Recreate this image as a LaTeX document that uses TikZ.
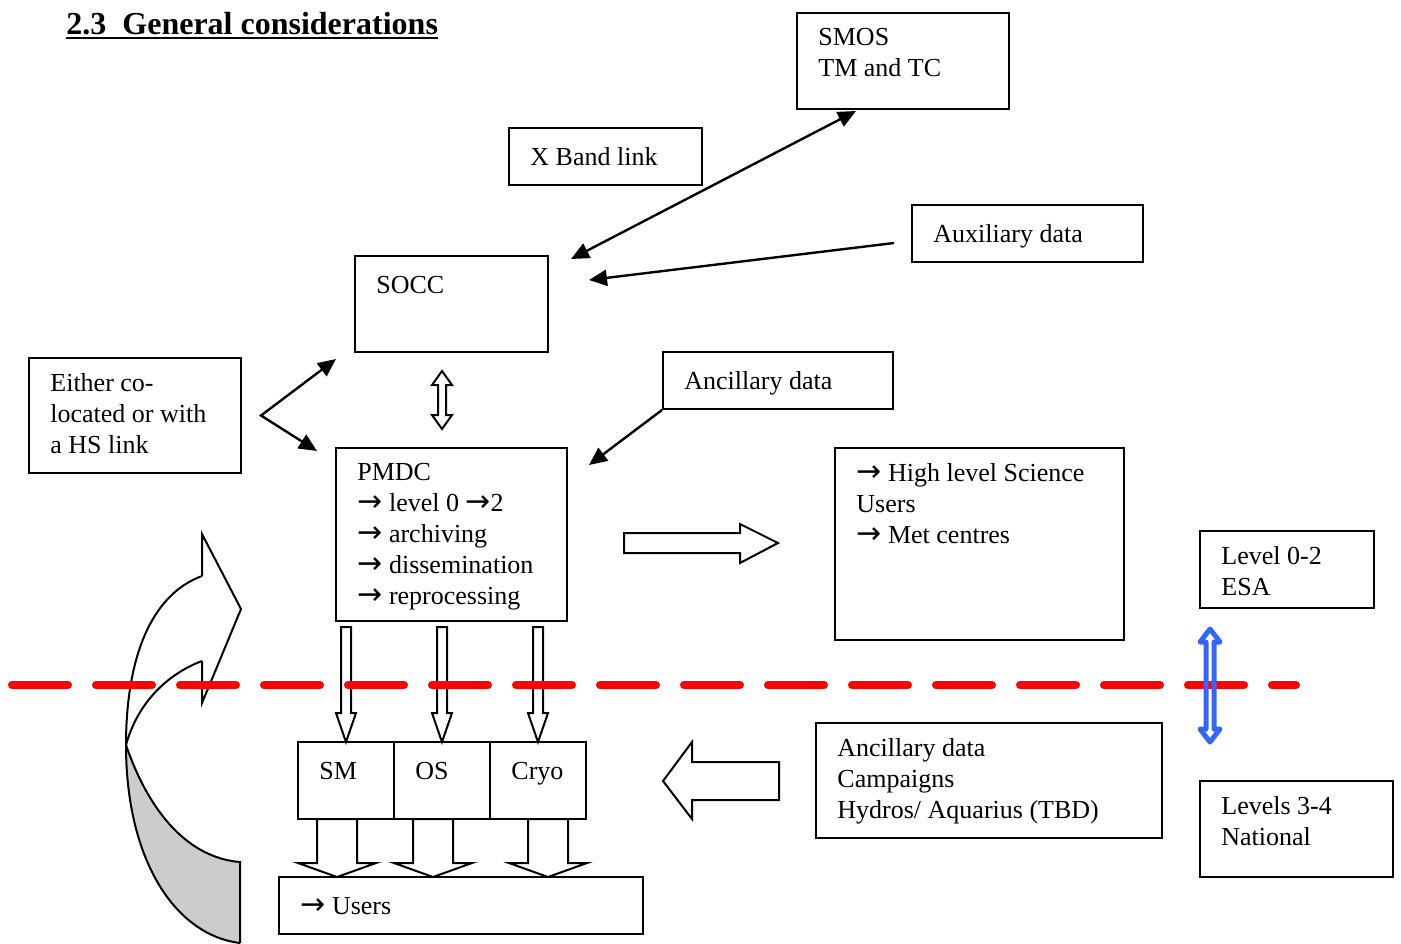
\documentclass[tikz,border=0pt]{standalone}
\usepackage{fontspec}
\setmainfont{Liberation Serif}
\newfontfamily\arrowfont{DejaVu Sans}
\newcommand\ra{{\arrowfont\fontsize{15}{15.5}\selectfont →}}
\usetikzlibrary{arrows.meta,fit}

\definecolor{linkblue}{RGB}{51,102,255}

\tikzset{
  box/.style={draw, line width=1pt, fill=white, inner sep=0pt},
  txt/.style={anchor=north west, inner sep=0pt, align=left,
    font=\fontsize{13}{15.5}\selectfont, execute at begin node=\strut},
  link/.style={line width=1.2pt},
  block/.style={draw, line width=1pt, fill=white, line join=miter},
}

\begin{document}
\begin{tikzpicture}[x=0.5pt, y=-0.5pt, >={Triangle[length=9pt,width=8pt]}]
  \useasboundingbox (0,0) rectangle (1401,943);

  % Title
  \node[anchor=base west, inner sep=0pt, font=\fontsize{16}{19}\selectfont\bfseries] (title) at (66,34) {2.3\ \ General considerations};
  \draw[line width=1.4pt] ([yshift=-2pt]title.base west) -- ([yshift=-2pt]title.base east);

  % Boxes
  \node[box, fit={(797,13) (1009,109)}] (smos) {};
  \node[box, fit={(509,128) (702,185)}] (xband) {};
  \node[box, fit={(912,205) (1143,262)}] (aux) {};
  \node[box, fit={(355,256) (548,352)}] (socc) {};
  \node[box, fit={(29,358) (241,473)}] (either) {};
  \node[box, fit={(663,352) (893,409)}] (anc) {};
  \node[box, fit={(336,448) (567,621)}] (pmdc) {};
  \node[box, fit={(835,448) (1124,640)}] (sci) {};
  \node[box, fit={(1200,531) (1374,608)}] (esa) {};
  \node[box, fit={(816,723) (1162,838)}] (camp) {};
  \node[box, fit={(1200,781) (1393,877)}] (nat) {};
  \node[box, fit={(298,742) (394,819)}] (sm) {};
  \node[box, fit={(394,742) (490,819)}] (os) {};
  \node[box, fit={(490,742) (586,819)}] (cryo) {};
  \node[box, fit={(279,877) (643,934)}] (users) {};

  % Box texts
  \node[txt] (smos-t) at ([shift={(22,16)}]smos.north west) {SMOS\\TM and TC};
  \node[txt] (xband-t) at ([shift={(22,16)}]xband.north west) {X Band link};
  \node[txt] (aux-t) at ([shift={(22,16)}]aux.north west) {Auxiliary data};
  \node[txt] (socc-t) at ([shift={(22,16)}]socc.north west) {SOCC};
  \node[txt] (either-t) at ([shift={(22,16)}]either.north west) {Either co-\\located or with\\a HS link};
  \node[txt] (anc-t) at ([shift={(22,16)}]anc.north west) {Ancillary data};
  \node[txt] (pmdc-t) at ([shift={(22,16)}]pmdc.north west) {PMDC\\\ra\ level 0 \ra2\\\ra\ archiving\\\ra\ dissemination\\\ra\ reprocessing};
  \node[txt] (sci-t) at ([shift={(22,16)}]sci.north west) {\ra\ High level Science\\Users\\\ra\ Met centres};
  \node[txt] (esa-t) at ([shift={(22,16)}]esa.north west) {Level 0-2\\ESA};
  \node[txt] (camp-t) at ([shift={(22,16)}]camp.north west) {Ancillary data\\Campaigns\\Hydros/ Aquarius (TBD)};
  \node[txt] (nat-t) at ([shift={(22,16)}]nat.north west) {Levels 3-4\\National};
  \node[txt] (sm-t) at ([shift={(22,16)}]sm.north west) {SM};
  \node[txt] (os-t) at ([shift={(22,16)}]os.north west) {OS};
  \node[txt] (cryo-t) at ([shift={(22,16)}]cryo.north west) {Cryo};
  \node[txt] (users-t) at ([shift={(22,16)}]users.north west) {\ra\ Users};

  % Link ends
  \coordinate (smos-in) at ([shift={(60,1)}]smos.south west);
  \coordinate (socc-ne) at ([shift={(22,4)}]socc.north east);
  \coordinate (aux-out) at ([shift={(-17,9.5)}]aux.west);
  \coordinate (socc-e) at ([shift={(40,25)}]socc.north east);
  \coordinate (hs) at ([shift={(19,0)}]either.east);
  \coordinate (socc-w) at ([shift={(-18,6)}]socc.south west);
  \coordinate (pmdc-w) at ([shift={(-18,4)}]pmdc.north west);
  \coordinate (pmdc-ne) at ([shift={(21,18)}]pmdc.north east);

  % Links
  \draw[link, <->] (socc-ne) -- (smos-in);
  \draw[link, ->] (aux-out) -- (socc-e);
  \draw[link, <->] (socc-w) -- (hs) -- (pmdc-w);
  \draw[link, ->] (anc.south west) -- (pmdc-ne);

  % Block arrows
  \draw[block] (438,385) -- (432,385) -- (442,371) -- (452,385) -- (446,385) -- (446,415) -- (452,415) -- (442,429) -- (432,415) -- (438,415) -- cycle;
  \draw[block] (624,533) -- (740,533) -- (740,524) -- (778,543) -- (740,563) -- (740,553) -- (624,553) -- cycle;
  \draw[block] (779,762) -- (692,762) -- (692,742) -- (663,781) -- (692,819) -- (692,800) -- (779,800) -- cycle;
  \foreach \c in {346,442,538}
    \draw[block] (\c-5,627) -- (\c+5,627) -- (\c+5,713) -- (\c+10,713) -- (\c,742) -- (\c-10,713) -- (\c-5,713) -- cycle;
  \foreach \c in {337,433,548}
    \draw[block] (\c-20,819) -- (\c+20,819) -- (\c+20,863) -- (\c+39,863) -- (\c,877) -- (\c-39,863) -- (\c-20,863) -- cycle;

  % Curved arrow on the left
  \coordinate (t) at (126,745);
  \fill[gray!40] (t) .. controls (126,860) and (175,935) .. (240,943) -- (240,862) .. controls (190,858) and (150,815) .. (t) -- cycle;
  \draw[line width=1pt] (202,661) .. controls (165,675) and (137,705) .. (t) .. controls (150,815) and (190,858) .. (240,862) -- (240,943);
  \draw[line width=1pt] (202,576) .. controls (150,595) and (126,660) .. (t) .. controls (126,860) and (175,935) .. (240,943);
  \draw[line width=1pt, line join=miter] (202,576) -- (202,534) -- (241,609) -- (202,703) -- (202,661);

  % Level split
  \draw[red, line width=4pt, line cap=round, dash pattern=on 28pt off 14pt] (12,685) -- (1296,685);
  \draw[linkblue, line width=2.5pt, line join=round] (1210,629) -- (1220,642) -- (1214,642) -- (1214,729) -- (1220,729) -- (1210,742) -- (1200,729) -- (1206,729) -- (1206,642) -- (1200,642) -- cycle;
\end{tikzpicture}
\end{document}
